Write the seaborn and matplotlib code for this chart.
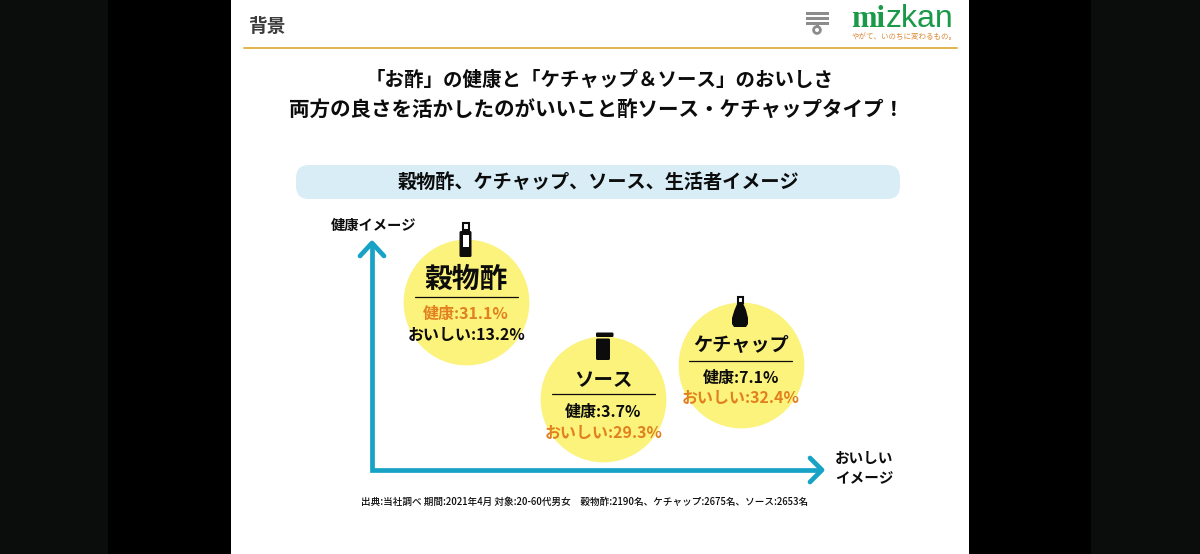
import numpy as np
import pandas as pd
import seaborn as sns
import matplotlib
matplotlib.use('Agg')
import matplotlib.pyplot as plt
from matplotlib.patches import FancyBboxPatch, Circle, Rectangle, Polygon

# dados da imagem
produtos = ['穀物酢', 'ソース', 'ケチャップ']
saude = [31.1, 3.7, 7.1]
sabor = [13.2, 29.3, 32.4]
destaque = ['健康', 'おいしい', 'おいしい']

titulo = ['「お酢」の健康と「ケチャップ＆ソース」のおいしさ',
          '両方の良さを活かしたのがいいこと酢ソース・ケチャップタイプ！']
faixa = '穀物酢、ケチャップ、ソース、生活者イメージ'
rodape = '出典:当社調べ 期間:2021年4月 対象:20-60代男女　穀物酢:2190名、ケチャップ:2675名、ソース:2653名'

AZUL = '#18a2c6'
AMARELO = '#fbf37b'
LARANJA = '#e2801f'
PRETO = '#0c0c0c'
CINZA = '#8c8c8c'

sns.set_theme(style='white')
plt.rcParams['font.family'] = ['Noto Sans CJK JP', 'DejaVu Sans']

W, H = 1200, 554
fig = plt.figure(figsize=(W / 100, H / 100), dpi=100, facecolor='#0a0d0c')


def camada_pixels(z):
    a = fig.add_axes([0, 0, 1, 1], zorder=z)
    a.set_xlim(0, W)
    a.set_ylim(H, 0)
    a.axis('off')
    return a


# camada de fundo em pixels
bg = camada_pixels(0)
bg.add_patch(Rectangle((108, 0), 123, H, color='#000000', lw=0))
bg.add_patch(Rectangle((969, 0), 122, H, color='#000000', lw=0))
bg.add_patch(Rectangle((231, 0), 738, H, color='white', lw=0))

# cabecalho
bg.text(248, 26, '背景', fontsize=13.5, fontweight='bold', color='#3c3c3c', ha='left', va='center')
bg.plot([244, 957], [48, 48], color='#e2b64e', lw=1.4)
for y0 in (13, 18, 23):
    bg.add_patch(Rectangle((806, y0 - 1.5), 23, 3.2, color=CINZA, lw=0))
bg.add_patch(Rectangle((815.5, 24), 3, 3, color=CINZA, lw=0))
bg.add_patch(Circle((817, 30), 3.4, fill=False, ec=CINZA, lw=2))
bg.text(851, 27, 'mi', fontsize=22, fontweight='bold', family='Liberation Serif', color='#1a9a48', ha='left', va='baseline')
bg.text(886, 27, 'zkan', fontsize=23, family='Liberation Sans', color='#1a9a48', ha='left', va='baseline')
bg.text(852, 37, 'やがて、いのちに変わるもの。', fontsize=5.4, color='#d98a3a', ha='left', va='center')

# titulo e faixa
bg.text(600, 80, titulo[0], fontsize=14, fontweight='bold', color=PRETO, ha='center', va='center')
bg.text(597, 110, titulo[1], fontsize=14.8, fontweight='bold', color=PRETO, ha='center', va='center')
bg.add_patch(FancyBboxPatch((296, 165), 604, 34, boxstyle='round,pad=0,rounding_size=13', fc='#d8edf6', ec='none'))
bg.text(598, 182, faixa, fontsize=13.8, fontweight='bold', color=PRETO, ha='center', va='center')

# setas
bg.plot([372, 372, 820], [244, 470, 470], color=AZUL, lw=3.4, solid_joinstyle='miter')
bg.plot([360, 372, 384], [256, 243, 256], color=AZUL, lw=3.4)
bg.plot([810, 822, 810], [458, 470, 482], color=AZUL, lw=3.4)
bg.text(373.5, 226, '健康イメージ', fontsize=10.3, fontweight='bold', color=PRETO, ha='center', va='center')
bg.text(864, 468, 'おいしい\nイメージ', fontsize=10.5, fontweight='bold', color=PRETO, ha='center', va='center', linespacing=1.35)
bg.text(585, 502, rodape, fontsize=6.9, color=PRETO, fontweight='medium', ha='center', va='center')

# grafico: x pela ordem de sabor, y em escala log deslocada
df = pd.DataFrame({'produto': produtos, 'saude': saude, 'sabor': sabor, 'destaque': destaque})
df = df.sort_values('sabor')

ax = fig.add_axes([372 / W, 1 - 470 / H, (830 - 372) / W, (470 - 245) / H], zorder=1)
ax.patch.set_alpha(0)
sns.scatterplot(data=df, x='produto', y='saude', s=8200, color=AMARELO, linewidth=0, ax=ax, clip_on=False, legend=False)
ax.set_yscale('function', functions=(lambda v: np.log(np.maximum(v - 1.3, 1e-6)), lambda v: np.exp(v) + 1.3))
ax.set_xlim(-0.686, 2.651)
ax.set_ylim(1.68, 132)
ax.axis('off')

# camada de cima: icones e linhas dos circulos
fg = camada_pixels(2)

# garrafa do vinagre
fg.add_patch(Rectangle((462.5, 223), 6, 6.5, fc='white', ec=PRETO, lw=1.5))
fg.add_patch(FancyBboxPatch((459.5, 231), 12, 26, boxstyle='round,pad=0,rounding_size=1.5', fc=PRETO, ec='none'))
fg.add_patch(Rectangle((463, 235), 5.5, 12, fc='white', ec='none'))
# molho
fg.add_patch(FancyBboxPatch((596, 338.5), 14, 21.5, boxstyle='round,pad=0,rounding_size=1.5', fc=PRETO, ec='none'))
fg.add_patch(FancyBboxPatch((596, 332.5), 17.5, 4.5, boxstyle='round,pad=0,rounding_size=1.2', fc=PRETO, ec='none'))
# ketchup
fg.add_patch(Rectangle((738, 296.5), 5, 6, fc='white', ec=PRETO, lw=1.5))
fg.add_patch(Polygon([(737.5, 303), (743, 303), (746, 310), (748, 318), (748, 324), (746, 327), (734, 327), (732, 324), (732, 318), (734.5, 310)], fc=PRETO, ec='none'))

# textos em cada circulo (deslocamentos em px a partir do centro)
layout = {
    '穀物酢': dict(nome=20, y_nome=-22, y_linha=-5, y1=12, y2=33),
    'ソース': dict(nome=14, y_nome=-18, y_linha=-5, y1=13, y2=34),
    'ケチャップ': dict(nome=13.8, y_nome=-20, y_linha=-4, y1=13, y2=33),
}
ordem = list(df['produto'])
for _, lin in df.iterrows():
    p = lin['produto']
    c = layout[p]
    pos = (p, lin['saude'])

    def escreve(txt, dy, size, cor=PRETO):
        ax.annotate(txt, xy=pos, xytext=(0, -dy * 0.72), textcoords='offset points',
                    fontsize=size, fontweight='bold', color=cor, ha='center', va='center', annotation_clip=False)

    escreve(p, c['y_nome'], c['nome'])
    escreve(f"健康:{lin['saude']}%", c['y1'], 11.5, LARANJA if lin['destaque'] == '健康' else PRETO)
    escreve(f"おいしい:{lin['sabor']}%", c['y2'], 11.5, LARANJA if lin['destaque'] == 'おいしい' else PRETO)

    xpix, ypix = ax.transData.transform((ordem.index(p), lin['saude']))
    ypix = H - ypix
    fg.plot([xpix - 51.5, xpix + 51.5], [ypix + c['y_linha']] * 2, color=PRETO, lw=0.9)

fig.savefig('out.png', dpi=100, facecolor=fig.get_facecolor())
